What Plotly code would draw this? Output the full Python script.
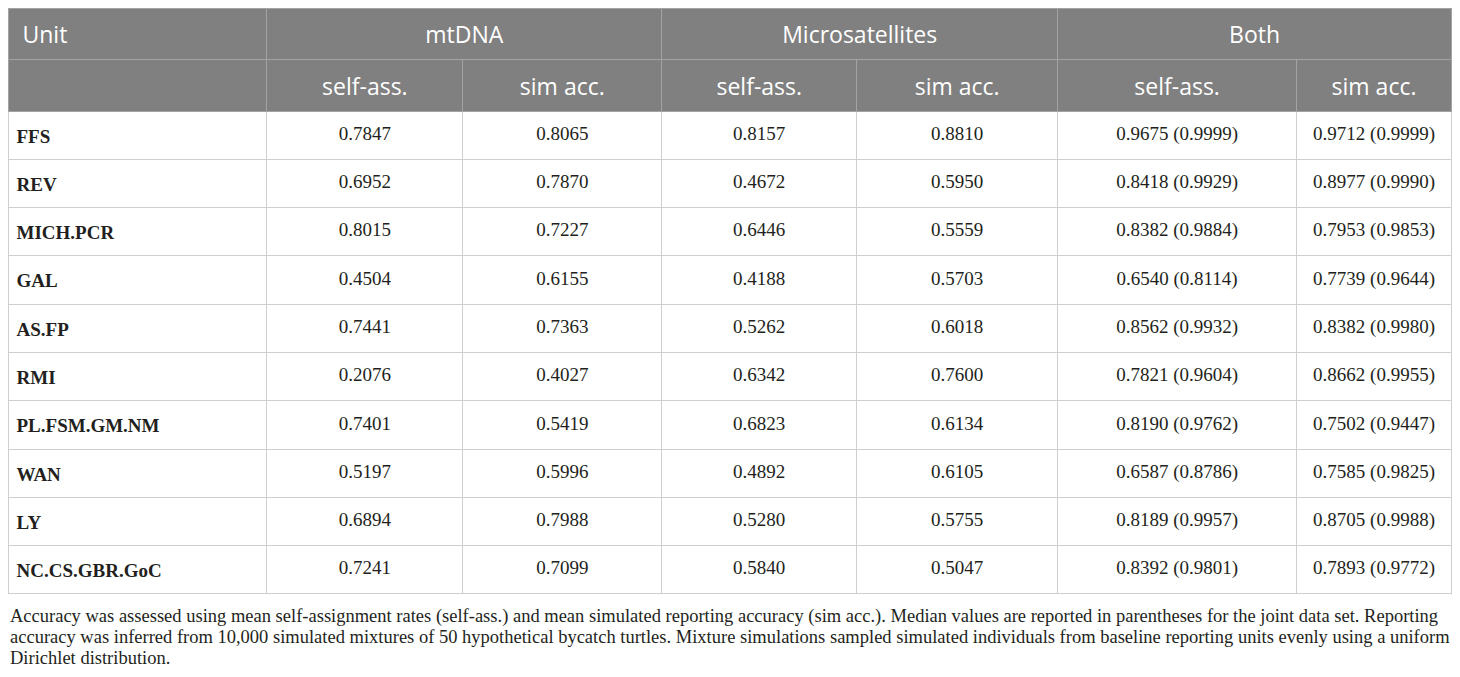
import plotly.graph_objects as go

W, H = 1460, 677

# ---- data ----
units = ["FFS", "REV", "MICH.PCR", "GAL", "AS.FP", "RMI", "PL.FSM.GM.NM", "WAN", "LY", "NC.CS.GBR.GoC"]
mt_self = [0.7847, 0.6952, 0.8015, 0.4504, 0.7441, 0.2076, 0.7401, 0.5197, 0.6894, 0.7241]
mt_sim = [0.8065, 0.7870, 0.7227, 0.6155, 0.7363, 0.4027, 0.5419, 0.5996, 0.7988, 0.7099]
ms_self = [0.8157, 0.4672, 0.6446, 0.4188, 0.5262, 0.6342, 0.6823, 0.4892, 0.5280, 0.5840]
ms_sim = [0.8810, 0.5950, 0.5559, 0.5703, 0.6018, 0.7600, 0.6134, 0.6105, 0.5755, 0.5047]
both_self = [0.9675, 0.8418, 0.8382, 0.6540, 0.8562, 0.7821, 0.8190, 0.6587, 0.8189, 0.8392]
both_self_med = [0.9999, 0.9929, 0.9884, 0.8114, 0.9932, 0.9604, 0.9762, 0.8786, 0.9957, 0.9801]
both_sim = [0.9712, 0.8977, 0.7953, 0.7739, 0.8382, 0.8662, 0.7502, 0.7585, 0.8705, 0.7893]
both_sim_med = [0.9999, 0.9990, 0.9853, 0.9644, 0.9980, 0.9955, 0.9447, 0.9825, 0.9988, 0.9772]

group_headers = ["Unit", "mtDNA", "Microsatellites", "Both"]
sub_headers = ["", "self-ass.", "sim acc.", "self-ass.", "sim acc.", "self-ass.", "sim acc."]

caption_lines = [
    "Accuracy was assessed using mean self-assignment rates (self-ass.) and mean simulated reporting accuracy (sim acc.). Median values are reported in parentheses for the joint data set. Reporting",
    "accuracy was inferred from 10,000 simulated mixtures of 50 hypothetical bycatch turtles. Mixture simulations sampled simulated individuals from baseline reporting units evenly using a uniform",
    "Dirichlet distribution.",
]

# ---- layout geometry (pixels, figure coordinates) ----
col_edges = [0.5, 259, 455, 654, 849, 1050, 1289, 1444]
col_w = [col_edges[i + 1] - col_edges[i] for i in range(7)]
grp_w = [col_w[0], col_w[1] + col_w[2], col_w[3] + col_w[4], col_w[5] + col_w[6]]
top_a = 0.0
hdr_a = 51.3
hdr_b = 51.7
row_h = 48.3
n_rows = len(units)
hdr_text_shift = 10.0   # pushes header text to vertical middle
body_text_shift = 6.5   # pushes body text to vertical middle

HDR_FILL = "#808080"
HDR_LINE = "#a3a3a3"
GRID = "#cfcfcf"
CLEAR = "rgba(0,0,0,0)"
SANS = "Open Sans"
SERIF = "Liberation Serif"
HDR_FONT = dict(family=SANS, size=23, color="white")
BODY_FONT = dict(family=SERIF, size=19, color="#231f20")


def fmt(v):
    return f"{v:.4f}"


cells = [
    [f"<b>{u}</b>" for u in units],
    [fmt(v) for v in mt_self],
    [fmt(v) for v in mt_sim],
    [fmt(v) for v in ms_self],
    [fmt(v) for v in ms_sim],
    [f"{fmt(a)} ({fmt(b)})" for a, b in zip(both_self, both_self_med)],
    [f"{fmt(a)} ({fmt(b)})" for a, b in zip(both_sim, both_sim_med)],
]
blank_cells = [[""] * n_rows for _ in cells]

dom_x = [col_edges[0] / W, col_edges[-1] / W]


def ydom(top_px, height_px):
    return [max(0.0, 1 - (top_px + height_px) / H), min(1.0, 1 - top_px / H)]


fig = go.Figure()

# --- grid / fill layer ---
fig.add_trace(go.Table(
    domain=dict(x=dom_x, y=ydom(top_a, hdr_a + 4)),
    columnwidth=grp_w,
    header=dict(values=[""] * 4, fill_color=HDR_FILL,
                line=dict(color=HDR_LINE, width=1), height=hdr_a),
    cells=dict(values=[[] for _ in grp_w]),
))
body_top = top_a + hdr_a
fig.add_trace(go.Table(
    domain=dict(x=dom_x, y=ydom(body_top, hdr_b + n_rows * row_h + 4)),
    columnwidth=col_w,
    header=dict(values=[""] * 7, fill_color=HDR_FILL,
                line=dict(color=HDR_LINE, width=1), height=hdr_b),
    cells=dict(values=blank_cells, fill_color="white",
               line=dict(color=GRID, width=1), height=row_h),
))

# --- text layer (shifted to centre text vertically) ---
fig.add_trace(go.Table(
    domain=dict(x=dom_x, y=ydom(top_a + hdr_text_shift, hdr_a + 4)),
    columnwidth=grp_w,
    header=dict(values=["\u00a0" + group_headers[0]] + group_headers[1:],
                fill_color=CLEAR, line=dict(color=CLEAR, width=0),
                align=["left", "center", "center", "center"],
                font=HDR_FONT, height=hdr_a),
    cells=dict(values=[[] for _ in grp_w]),
))
fig.add_trace(go.Table(
    domain=dict(x=dom_x, y=ydom(body_top + hdr_text_shift, hdr_b + n_rows * row_h + 4)),
    columnwidth=col_w,
    header=dict(values=sub_headers, fill_color=CLEAR,
                line=dict(color=CLEAR, width=0), align="center",
                font=HDR_FONT, height=hdr_b - (hdr_text_shift - body_text_shift)),
    cells=dict(values=cells, fill_color=CLEAR,
               line=dict(color=CLEAR, width=0),
               align=["left"] + ["center"] * 6,
               font=BODY_FONT, height=row_h),
))

cap_y = [608, 629, 650]
for txt, yy in zip(caption_lines, cap_y):
    fig.add_annotation(
        text=txt, x=0, y=1 - yy / H, xref="paper", yref="paper",
        xanchor="left", yanchor="middle", showarrow=False,
        font=dict(family=SERIF, size=18.5, color="#231f20"),
    )

fig.update_layout(
    width=W, height=H,
    margin=dict(l=0, r=0, t=0, b=0),
    paper_bgcolor="white", plot_bgcolor="white",
)

fig.write_html("out.html")
